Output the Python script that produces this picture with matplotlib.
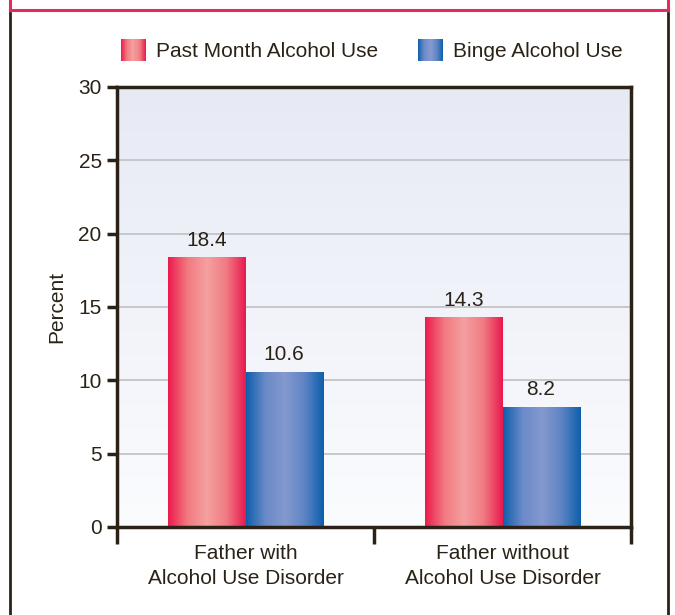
import matplotlib

matplotlib.use("Agg")
import matplotlib.pyplot as plt
import numpy as np
from matplotlib.colors import LinearSegmentedColormap
from matplotlib.legend_handler import HandlerBase
from matplotlib.lines import Line2D
from matplotlib.patches import Rectangle

plt.rcParams["font.family"] = ["Liberation Sans", "DejaVu Sans"]

categories = ["Father with\nAlcohol Use Disorder", "Father without\nAlcohol Use Disorder"]
series_names = ["Past Month Alcohol Use", "Binge Alcohol Use"]
past_month = [18.4, 14.3]
binge = [10.6, 8.2]

TEXT = "#2a2216"
FS = 15
red_cmap = LinearSegmentedColormap.from_list(
    "red", ["#ec1a4e", "#f27a80", "#f4a0a0", "#f07b82", "#e8194f"])
blue_cmap = LinearSegmentedColormap.from_list(
    "blue", ["#0f5eab", "#6a8ac8", "#8499cf", "#5f84c4", "#0d5fab"])
bg_cmap = LinearSegmentedColormap.from_list("bg", ["#fbfcfe", "#e7eaf5"])


class GradientHandler(HandlerBase):
    """Legend key drawn as vertical stripes of a colormap."""

    def __init__(self, cmap, n=24):
        super().__init__()
        self.cmap = cmap
        self.n = n

    def create_artists(self, legend, orig_handle, xdescent, ydescent, width, height,
                       fontsize, trans):
        step = width / self.n
        return [Rectangle((-xdescent + i * step, -ydescent), step * 1.05, height,
                          facecolor=self.cmap((i + 0.5) / self.n), edgecolor="none",
                          transform=trans)
                for i in range(self.n)]


fig = plt.figure(figsize=(6.75, 6.15), dpi=100)
ax = fig.add_axes([117 / 675, 1 - 527 / 615, (631 - 117) / 675, (527 - 87) / 615])

# plot background gradient
grad_v = np.linspace(0, 1, 256).reshape(-1, 1)
ax.imshow(grad_v, extent=[-0.5, 1.5, 0, 30], origin="lower", aspect="auto",
          cmap=bg_cmap, zorder=0)

for y in range(5, 30, 5):
    ax.axhline(y, color="#c4c4c8", lw=1.3, zorder=1)

x = np.arange(len(categories))
w = 0.3
grad_h = np.linspace(0, 1, 256).reshape(1, -1)


def gradient_bars(xs, vals, cmap):
    bars = ax.bar(xs, vals, width=w, color="none", edgecolor="none", zorder=2)
    for b in bars:
        im = ax.imshow(grad_h, extent=[b.get_x(), b.get_x() + b.get_width(), 0, b.get_height()],
                       aspect="auto", cmap=cmap, zorder=2)
        im.set_clip_path(b)
        ax.text(b.get_x() + b.get_width() / 2, b.get_height() + 0.5, f"{b.get_height():.1f}",
                ha="center", va="bottom", fontsize=FS, color=TEXT)
    return bars


gradient_bars(x - w / 2, past_month, red_cmap)
gradient_bars(x + w / 2, binge, blue_cmap)

ax.set_xlim(-0.5, 1.5)
ax.set_ylim(0, 30)
ax.set_yticks(range(0, 31, 5))
ax.set_xticks([-0.5, 0.5, 1.5])
ax.set_xticklabels([])
ax.tick_params(axis="y", direction="out", length=7, width=2.5, color=TEXT,
               labelsize=FS, labelcolor=TEXT, pad=4)
ax.tick_params(axis="x", direction="out", length=12, width=2.5, color=TEXT)
for s in ax.spines.values():
    s.set_color(TEXT)
    s.set_linewidth(2.5)
for xi, lab in zip(x, categories):
    ax.text(xi, -1.15, lab, ha="center", va="top", fontsize=FS, color=TEXT,
            linespacing=1.4)
ax.set_ylabel("Percent", fontsize=FS, color=TEXT, labelpad=9)

# legend
handles = [Rectangle((0, 0), 1, 1), Rectangle((0, 0), 1, 1)]
fig.legend(handles, series_names, loc="center", bbox_to_anchor=(372 / 675, 1 - 50 / 615),
           ncol=2, frameon=False, fontsize=FS, handlelength=1.2, handleheight=1.2,
           columnspacing=1.9, handletextpad=0.5, labelcolor=TEXT,
           handler_map={handles[0]: GradientHandler(red_cmap),
                        handles[1]: GradientHandler(blue_cmap)})

# outer frame
fig.add_artist(Line2D([10 / 675, 668 / 675], [1 - 10 / 615, 1 - 10 / 615],
                      color="#e8295e", lw=2.2))
for xf in (10 / 675, 668 / 675):
    fig.add_artist(Line2D([xf, xf], [1 - 10 / 615, 1], color="#e8295e", lw=2.2))
    fig.add_artist(Line2D([xf, xf], [0, 1 - 13 / 615], color=TEXT, lw=2))

fig.savefig("out.png", dpi=100)
